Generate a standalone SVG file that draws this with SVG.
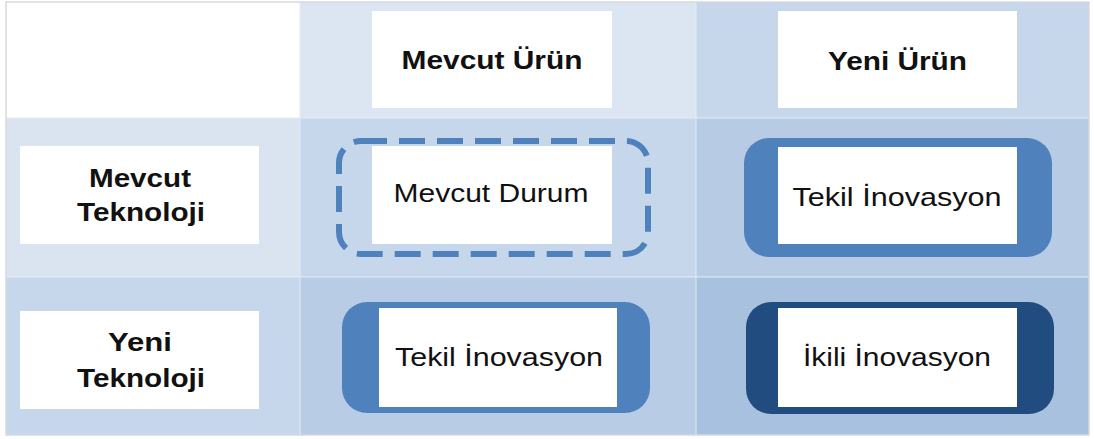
<svg xmlns="http://www.w3.org/2000/svg" width="1094" height="439" viewBox="0 0 1094 439">
<style>
.box{fill:#ffffff}
.hd{font-family:"Liberation Sans",Arial,sans-serif;font-weight:bold;font-size:25px;fill:#111111;text-anchor:middle}
.tx{font-family:"Liberation Sans",Arial,sans-serif;font-size:26px;fill:#111111;text-anchor:middle}
.frame{fill:#4f81bd}
.frame2{fill:#214c80}
.dash{fill:none;stroke:#4f81bd;stroke-width:6;stroke-dasharray:26 12}
.sep{stroke:#e4ebf4;stroke-width:1}
</style>
<rect x="0" y="0" width="1094" height="439" fill="#ffffff"/>
<g id="grid">
<rect x="6" y="2" width="294" height="116" fill="#ffffff"/>
<rect x="300" y="2" width="396" height="116" fill="#dce6f2"/>
<rect x="696" y="2" width="393" height="116" fill="#c6d7ec"/>
<rect x="6" y="118" width="294" height="159" fill="#dae4f1"/>
<rect x="300" y="118" width="396" height="159" fill="#c6d7ec"/>
<rect x="696" y="118" width="393" height="159" fill="#b7cbe4"/>
<rect x="6" y="277" width="294" height="158" fill="#c6d6eb"/>
<rect x="300" y="277" width="396" height="158" fill="#b8cce5"/>
<rect x="696" y="277" width="393" height="158" fill="#a8c1df"/>
<line class="sep" x1="6" y1="118" x2="1089" y2="118"/>
<line class="sep" x1="6" y1="277" x2="1089" y2="277"/>
<line class="sep" x1="300" y1="2" x2="300" y2="435"/>
<line class="sep" x1="696" y1="2" x2="696" y2="435"/>
<rect x="6" y="2" width="1083" height="433" fill="none" stroke="#d6d9de" stroke-width="1.5"/>
</g>
<g id="connectors"></g>
<g id="h-mevcut-urun">
<rect class="box" x="372" y="11" width="240" height="97"/>
<text class="hd" x="492" y="69" textLength="181" lengthAdjust="spacingAndGlyphs">Mevcut Ürün</text>
</g>
<g id="h-yeni-urun">
<rect class="box" x="778" y="11" width="239" height="97"/>
<text class="hd" x="897.5" y="70" textLength="139" lengthAdjust="spacingAndGlyphs">Yeni Ürün</text>
</g>
<g id="r-mevcut-teknoloji">
<rect class="box" x="20" y="146" width="239" height="98"/>
<text class="hd" x="140" y="187" textLength="102" lengthAdjust="spacingAndGlyphs">Mevcut</text>
<text class="hd" x="141" y="221" textLength="128" lengthAdjust="spacingAndGlyphs">Teknoloji</text>
</g>
<g id="r-yeni-teknoloji">
<rect class="box" x="20" y="311" width="239" height="98"/>
<text class="hd" x="140" y="351" textLength="64" lengthAdjust="spacingAndGlyphs">Yeni</text>
<text class="hd" x="141" y="387" textLength="128" lengthAdjust="spacingAndGlyphs">Teknoloji</text>
</g>
<g id="mevcut-durum">
<rect class="dash" x="339" y="141" width="309" height="113" rx="22" ry="22"/>
<rect class="box" x="372" y="146" width="240" height="98"/>
<text class="tx" x="491" y="202" textLength="195" lengthAdjust="spacingAndGlyphs">Mevcut Durum</text>
</g>
<g id="tekil-inovasyon-1">
<rect class="frame" x="744" y="138" width="308" height="119" rx="25" ry="25"/>
<rect class="box" x="778" y="147" width="239" height="97"/>
<text class="tx" x="897" y="206" textLength="209" lengthAdjust="spacingAndGlyphs">Tekil İnovasyon</text>
</g>
<g id="tekil-inovasyon-2">
<rect class="frame" x="342" y="302" width="308" height="111" rx="25" ry="25"/>
<rect class="box" x="379" y="308" width="238" height="99"/>
<text class="tx" x="499" y="366" textLength="208" lengthAdjust="spacingAndGlyphs">Tekil İnovasyon</text>
</g>
<g id="ikili-inovasyon">
<rect class="frame2" x="746" y="302" width="308" height="112" rx="25" ry="25"/>
<rect class="box" x="778" y="308" width="239" height="99"/>
<text class="tx" x="897" y="366" textLength="188" lengthAdjust="spacingAndGlyphs">İkili İnovasyon</text>
</g>
</svg>
